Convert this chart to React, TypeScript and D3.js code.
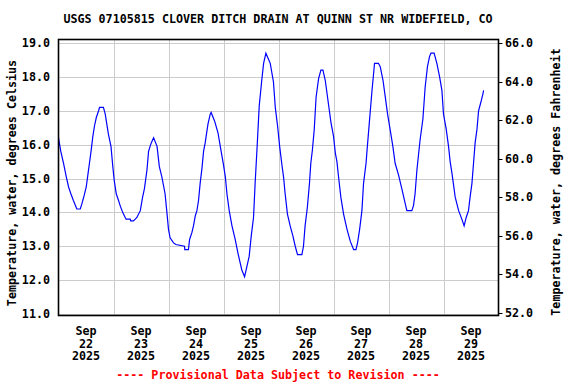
import React, { useEffect, useRef } from "react";
import * as d3 from "d3";

const title = "USGS 07105815 CLOVER DITCH DRAIN AT QUINN ST NR WIDEFIELD, CO";
const footer = "---- Provisional Data Subject to Revision ----";
const leftLabel = "Temperature, water, degrees Celsius";
const rightLabel = "Temperature, water, degrees Fahrenheit";

const dayLabels = ["22", "23", "24", "25", "26", "27", "28", "29"];
const celsiusTicks = [11, 12, 13, 14, 15, 16, 17, 18, 19];
const fahrenheitTicks = [52, 54, 56, 58, 60, 62, 64, 66];

// hours after Sep 22 2025 00:00
const hours = [
  0, 1.0, 2.2, 3.4, 4.4, 5.4, 6.5, 8.0, 9.5, 10.2, 11.2, 12.1, 12.7, 13.5, 14.1,
  15.0, 15.7, 16.5, 17.5, 17.9, 19.6, 20.4, 21.1, 21.8, 22.9, 23.7, 24.3, 25.2,
  26.2, 26.9, 28.0, 29.1, 29.5, 31.3, 31.5, 32.7, 33.5, 34.2, 35.7, 36.7, 37.5,
  38.6, 39.3, 40.2, 40.8, 41.5, 43.0, 44.0, 45.1, 46.5, 47.3, 48.0, 48.7, 50.2,
  51.2, 55.0, 55.1, 56.7, 57.2, 58.2, 58.9, 59.7, 60.4, 61.1, 61.8, 62.6, 63.3,
  64.0, 65.2, 66.2, 66.6, 68.1, 69.6, 70.6, 72.0, 72.8, 73.5, 74.5, 75.7, 77.1,
  78.3, 79.3, 80.0, 81.2, 82.2, 83.2, 84.1, 85.1, 85.8, 86.6, 87.6, 88.7, 89.5,
  90.5, 92.4, 93.8, 94.6, 95.6, 96.5, 97.5, 98.2, 98.9, 99.9, 101.1, 102.3,
  103.3, 104.3, 106.2, 106.9, 107.6, 108.6, 109.5, 110.1, 110.8, 111.6, 112.4,
  113.5, 114.5, 115.4, 116.4, 117.8, 118.9, 120.0, 120.8, 121.5, 122.2, 123.2,
  124.4, 125.9, 127.3, 128.8, 129.8, 130.5, 131.4, 132.4, 133.1, 134.2, 134.6,
  135.7, 136.8, 137.5, 137.9, 139.6, 140.4, 141.6, 142.6, 143.6, 144.7, 145.9,
  146.9, 148.4, 149.8, 151.0, 152.0, 154.2, 154.9, 155.6, 156.4, 157.1, 157.8,
  159.0, 160.0, 161.0, 161.9, 162.5, 163.9, 165.1, 166.3, 167.3, 168.0, 169.2,
  170.2, 170.9, 171.7, 172.1, 173.1, 174.6, 176.0, 177.0, 177.9, 178.9, 179.6,
  180.4, 181.1, 181.8, 182.6, 183.3, 184.3, 185.2, 185.5,
];

const tempC = [
  16.2, 15.8, 15.45, 15.05, 14.75, 14.55, 14.35, 14.1, 14.1, 14.25, 14.5, 14.75,
  15.05, 15.45, 15.75, 16.25, 16.55, 16.8, 17.0, 17.1, 17.1, 16.9, 16.6, 16.3,
  15.95, 15.35, 14.95, 14.55, 14.35, 14.2, 14.0, 13.85, 13.8, 13.8, 13.75, 13.75,
  13.8, 13.85, 14.05, 14.45, 14.7, 15.25, 15.8, 16.0, 16.1, 16.2, 15.95, 15.35,
  15.05, 14.55, 14.0, 13.5, 13.25, 13.1, 13.05, 13.0, 12.9, 12.9, 13.2, 13.4,
  13.6, 13.9, 14.05, 14.35, 14.85, 15.3, 15.8, 16.05, 16.6, 16.9, 16.95, 16.7,
  16.35, 15.95, 15.4, 15.05, 14.55, 14.05, 13.6, 13.2, 12.8, 12.5, 12.3, 12.1,
  12.4, 12.7, 13.3, 13.85, 14.85, 15.85, 17.15, 17.9, 18.4, 18.7, 18.4, 17.85,
  17.1, 16.55, 15.95, 15.4, 15.05, 14.55, 13.95, 13.6, 13.3, 13.0, 12.75, 12.75,
  13.0, 13.6, 14.15, 14.85, 15.45, 15.85, 16.45, 17.4, 17.95, 18.2, 18.2, 17.9,
  17.2, 16.65, 16.25, 15.75, 15.5, 15.05, 14.45, 13.95, 13.5, 13.15, 12.9, 12.9,
  13.1, 13.5, 14.05, 14.85, 15.45, 15.8, 16.7, 17.6, 18.1, 18.4, 18.4, 18.3,
  17.9, 17.4, 16.9, 16.45, 15.95, 15.45, 15.1, 14.7, 14.35, 14.05, 14.05, 14.2,
  14.55, 15.25, 15.7, 16.15, 16.75, 17.7, 18.3, 18.6, 18.7, 18.7, 18.4, 18.0,
  17.6, 16.9, 16.45, 15.95, 15.5, 15.15, 14.95, 14.45, 14.05, 13.8, 13.6, 13.85,
  14.05, 14.45, 14.85, 15.45, 16.05, 16.45, 17.0, 17.25, 17.5, 17.6,
];

const width = 576;
const height = 384;
const font = "'DejaVu Sans Mono', monospace";

const App: React.FC = () => {
  const svgRef = useRef<SVGSVGElement>(null);

  useEffect(() => {
    const svg = d3.select(svgRef.current);
    svg.selectAll("*").remove();

    const start = new Date(2025, 8, 22);
    const end = new Date(2025, 8, 30);
    const left = 58.5;
    const right = 498.5;
    const top = 39.5;
    const bottom = 315.5;

    const x = d3.scaleTime().domain([start, end]).range([left, right]);
    const yC = d3.scaleLinear().domain([11, 19]).range([314, 43]);
    const yF = d3.scaleLinear().domain([52, 66]).range([313, 43]);

    // grid
    const grid = svg.append("g").attr("stroke", "#cccccc").attr("stroke-width", 1);
    grid.selectAll("line.h")
      .data(celsiusTicks)
      .join("line")
      .attr("class", "h")
      .attr("x1", left)
      .attr("x2", right)
      .attr("y1", (d) => Math.round(yC(d)) + 0.5)
      .attr("y2", (d) => Math.round(yC(d)) + 0.5);
    const midnights = d3.timeDay.range(d3.timeDay.offset(start, 1), end);
    grid.selectAll("line.v")
      .data(midnights)
      .join("line")
      .attr("class", "v")
      .attr("x1", (d) => Math.round(x(d)) + 0.5)
      .attr("x2", (d) => Math.round(x(d)) + 0.5)
      .attr("y1", top)
      .attr("y2", bottom);

    // data line
    const pts = hours.map((h, i) => ({ t: d3.timeMinute.offset(start, Math.round(h * 60)), v: tempC[i] }));
    const line = d3
      .line<{ t: Date; v: number }>()
      .x((d) => x(d.t))
      .y((d) => yC(d.v));
    svg.append("path")
      .datum(pts)
      .attr("d", line)
      .attr("fill", "none")
      .attr("stroke", "#0000ff")
      .attr("stroke-width", 1.2);

    // frame
    svg.append("rect")
      .attr("x", left)
      .attr("y", top)
      .attr("width", right - left)
      .attr("height", bottom - top)
      .attr("fill", "none")
      .attr("stroke", "#000")
      .attr("stroke-width", 1.6);

    const txt = svg.append("g")
      .attr("font-family", font)
      .attr("font-weight", "bold")
      .attr("font-size", 11.7)
      .attr("fill", "#000");

    // left axis labels
    txt.selectAll("text.yl")
      .data(celsiusTicks)
      .join("text")
      .attr("class", "yl")
      .attr("x", 50)
      .attr("y", (d) => yC(d) + 4)
      .attr("text-anchor", "end")
      .text((d) => d.toFixed(1));

    // right axis ticks and labels
    svg.append("g")
      .attr("stroke", "#000")
      .selectAll("line")
      .data(fahrenheitTicks)
      .join("line")
      .attr("x1", right)
      .attr("x2", right + 4)
      .attr("y1", (d) => Math.round(yF(d)) + 0.5)
      .attr("y2", (d) => Math.round(yF(d)) + 0.5);
    txt.selectAll("text.yr")
      .data(fahrenheitTicks)
      .join("text")
      .attr("class", "yr")
      .attr("x", 505)
      .attr("y", (d) => yF(d) + 4)
      .text((d) => d.toFixed(1));

    // x labels at noon
    const noons = dayLabels.map((_, i) => d3.timeHour.offset(start, i * 24 + 12));
    noons.forEach((d, i) => {
      const t = txt.append("text").attr("x", x(d)).attr("text-anchor", "middle");
      ["Sep", dayLabels[i], "2025"].forEach((s, j) => {
        t.append("tspan").attr("x", x(d)).attr("y", 335 + j * 12.7).text(s);
      });
    });

    // axis titles
    txt.append("text")
      .attr("transform", `translate(16, 183) rotate(-90)`)
      .attr("text-anchor", "middle")
      .text(leftLabel);
    txt.append("text")
      .attr("transform", `translate(560, 182) rotate(-90)`)
      .attr("text-anchor", "middle")
      .text(rightLabel);

    txt.append("text")
      .attr("x", 278)
      .attr("y", 23)
      .attr("text-anchor", "middle")
      .text(title);

    txt.append("text")
      .attr("x", 278)
      .attr("y", 379)
      .attr("text-anchor", "middle")
      .attr("fill", "#ff0000")
      .text(footer);
  }, []);

  return (
    <svg
      ref={svgRef}
      width={width}
      height={height}
      style={{ position: "absolute", left: 0, top: 0, background: "#fff" }}
    />
  );
};

export default App;
